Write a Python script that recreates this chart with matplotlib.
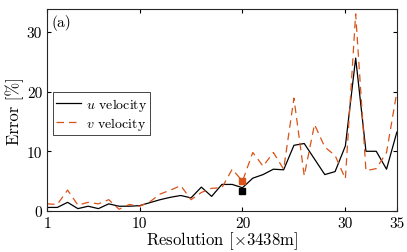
import matplotlib as mpl
import matplotlib.pyplot as plt
import numpy as np

# Data
res = list(range(1, 36))
u_err = [0.6, 0.6, 1.45, 0.4, 0.8, 0.4, 1.2, 0.8, 0.8, 0.9,
         1.4, 1.9, 2.3, 2.6, 2.2, 4.0, 2.45, 4.45, 4.45, 3.9,
         5.5, 6.1, 7.0, 6.9, 11.0, 11.3, 8.7, 6.1, 6.6, 10.9,
         25.6, 10.0, 10.0, 7.0, 13.2]
v_err = [1.2, 1.1, 3.5, 1.0, 1.45, 1.2, 1.9, 0.3, 1.1, 0.8,
         1.55, 2.85, 3.5, 4.25, 1.9, 3.1, 3.8, 3.9, 7.0, 5.0,
         9.8, 7.5, 9.8, 7.0, 18.9, 5.9, 14.5, 10.7, 9.3, 5.4,
         33.0, 6.75, 7.1, 9.8, 19.9]
sel_res = 20
sel_u = 3.3
sel_v = 5.0
x_ticks = [1, 10, 20, 30, 35]
y_ticks = [0, 10, 20, 30]

# Plot parameters
mpl.rcParams['font.family'] = 'serif'
mpl.rcParams['font.serif'] = ['cmr10']
mpl.rcParams['mathtext.fontset'] = 'cm'
mpl.rcParams['axes.unicode_minus'] = False
mpl.rcParams['font.size'] = 11
mpl.rcParams['axes.linewidth'] = 0.8
mpl.rcParams['axes.edgecolor'] = '#262626'
mpl.rcParams['xtick.direction'] = 'in'
mpl.rcParams['ytick.direction'] = 'in'
mpl.rcParams['xtick.top'] = True
mpl.rcParams['ytick.right'] = True
mpl.rcParams['xtick.major.size'] = 3
mpl.rcParams['ytick.major.size'] = 3

orange = '#D95319'

fig = plt.figure(figsize=(4.07, 2.53), dpi=100)
ax = fig.add_axes([0.1155, 0.162, 0.8595, 0.798])

ax.plot(res, u_err, color='k', linewidth=0.9, label='$u$ velocity')
ax.plot(res, v_err, color=orange, linewidth=0.9, dashes=(6, 4), label='$v$ velocity')
ax.plot([sel_res], [sel_v], 's', color=orange, markersize=5)
ax.plot([sel_res], [sel_u], 's', color='k', markersize=5)

ax.set_xlim(1, 35)
ax.set_ylim(0, 33.8)
ax.set_xticks(x_ticks)
ax.set_yticks(y_ticks)
ax.set_xlabel(r'Resolution [$\times$3438m]', fontsize=12, labelpad=0)
ax.set_ylabel('Error [%]', fontsize=12, labelpad=2)
ax.text(0.012, 0.975, '(a)', transform=ax.transAxes, ha='left', va='top', fontsize=11)

leg = ax.legend(loc='upper left', bbox_to_anchor=(0.017, 0.589), borderaxespad=0,
                fancybox=False, edgecolor='#262626', framealpha=1, handlelength=1.8,
                handletextpad=0.3, borderpad=0.25, labelspacing=0.15, fontsize=10)
leg.get_frame().set_linewidth(0.6)

fig.savefig('out.png', dpi=100)
